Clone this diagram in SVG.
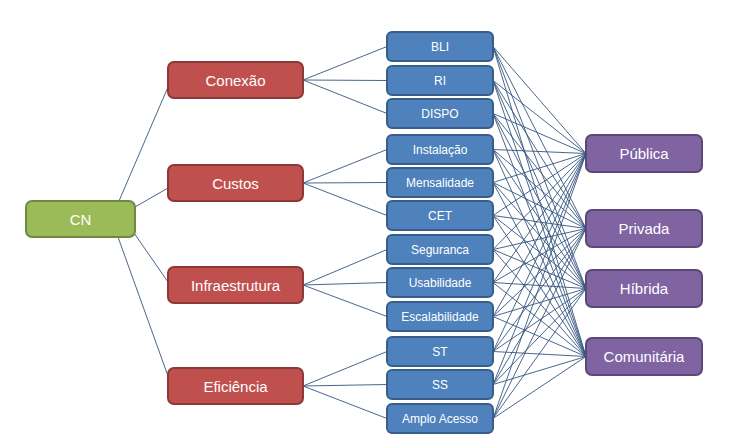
<svg xmlns="http://www.w3.org/2000/svg" width="751" height="439" viewBox="0 0 751 439">
<defs>
<style>
.lk{stroke:#34567f;stroke-width:0.9;fill:none}
.g{fill:#9BBB59;stroke:#71893F;stroke-width:2}
.r{fill:#C0504D;stroke:#8C3836;stroke-width:2}
.b{fill:#4F81BD;stroke:#385D8A;stroke-width:2}
.p{fill:#8064A2;stroke:#5C4776;stroke-width:2}
text{font-family:"Liberation Sans",Arial,sans-serif;fill:#fff;text-anchor:middle;dominant-baseline:central}
.t1{font-size:15px}
.t2{font-size:12px}
</style>
</defs>
<rect width="751" height="439" fill="#fff"/>
<g id="connectors">
<line class="lk" x1="119" y1="201" x2="168" y2="87"/>
<line class="lk" x1="135" y1="207" x2="168" y2="188"/>
<line class="lk" x1="134" y1="233" x2="168" y2="282"/>
<line class="lk" x1="118" y1="237" x2="168" y2="376"/>
<line class="lk" x1="303" y1="80" x2="387" y2="46.5"/>
<line class="lk" x1="303" y1="80" x2="387" y2="80.5"/>
<line class="lk" x1="303" y1="80" x2="387" y2="113.5"/>
<line class="lk" x1="303" y1="183" x2="387" y2="149.5"/>
<line class="lk" x1="303" y1="183" x2="387" y2="182.5"/>
<line class="lk" x1="303" y1="183" x2="387" y2="215.5"/>
<line class="lk" x1="303" y1="285" x2="387" y2="249.5"/>
<line class="lk" x1="303" y1="285" x2="387" y2="282.5"/>
<line class="lk" x1="303" y1="285" x2="387" y2="316.5"/>
<line class="lk" x1="303" y1="386" x2="387" y2="351.5"/>
<line class="lk" x1="303" y1="386" x2="387" y2="384.5"/>
<line class="lk" x1="303" y1="386" x2="387" y2="418.5"/>
<path class="lk" d="M493 46.5L586 153.5M493 46.5L586 228.5M493 46.5L586 288.5M493 46.5L586 356.5
M493 80.5L586 153.5M493 80.5L586 228.5M493 80.5L586 288.5M493 80.5L586 356.5
M493 113.5L586 153.5M493 113.5L586 228.5M493 113.5L586 288.5M493 113.5L586 356.5
M493 149.5L586 153.5M493 149.5L586 228.5M493 149.5L586 288.5M493 149.5L586 356.5
M493 182.5L586 153.5M493 182.5L586 228.5M493 182.5L586 288.5M493 182.5L586 356.5
M493 215.5L586 153.5M493 215.5L586 228.5M493 215.5L586 288.5M493 215.5L586 356.5
M493 249.5L586 153.5M493 249.5L586 228.5M493 249.5L586 288.5M493 249.5L586 356.5
M493 282.5L586 153.5M493 282.5L586 228.5M493 282.5L586 288.5M493 282.5L586 356.5
M493 316.5L586 153.5M493 316.5L586 228.5M493 316.5L586 288.5M493 316.5L586 356.5
M493 351.5L586 153.5M493 351.5L586 228.5M493 351.5L586 288.5M493 351.5L586 356.5
M493 384.5L586 153.5M493 384.5L586 228.5M493 384.5L586 288.5M493 384.5L586 356.5
M493 418.5L586 153.5M493 418.5L586 228.5M493 418.5L586 288.5M493 418.5L586 356.5"/>
</g>
<g id="n-cn"><rect class="g" x="26" y="201" width="109" height="36" rx="6"/><text class="t1" x="80.5" y="219">CN</text></g>
<g id="n-conexao"><rect class="r" x="168" y="62" width="135" height="36" rx="6"/><text class="t1" x="235.5" y="80">Conexão</text></g>
<g id="n-custos"><rect class="r" x="168" y="165" width="135" height="36" rx="6"/><text class="t1" x="235.5" y="183">Custos</text></g>
<g id="n-infra"><rect class="r" x="168" y="267" width="135" height="36" rx="6"/><text class="t1" x="235.5" y="285">Infraestrutura</text></g>
<g id="n-efic"><rect class="r" x="168" y="368" width="135" height="36" rx="6"/><text class="t1" x="235.5" y="386">Eficiência</text></g>
<g id="n-bli"><rect class="b" x="387" y="32" width="106" height="29" rx="5"/><text class="t2" x="440" y="46.5">BLI</text></g>
<g id="n-ri"><rect class="b" x="387" y="66" width="106" height="29" rx="5"/><text class="t2" x="440" y="80.5">RI</text></g>
<g id="n-dispo"><rect class="b" x="387" y="99" width="106" height="29" rx="5"/><text class="t2" x="440" y="113.5">DISPO</text></g>
<g id="n-inst"><rect class="b" x="387" y="135" width="106" height="29" rx="5"/><text class="t2" x="440" y="149.5">Instalação</text></g>
<g id="n-mens"><rect class="b" x="387" y="168" width="106" height="29" rx="5"/><text class="t2" x="440" y="182.5">Mensalidade</text></g>
<g id="n-cet"><rect class="b" x="387" y="201" width="106" height="29" rx="5"/><text class="t2" x="440" y="215.5">CET</text></g>
<g id="n-seg"><rect class="b" x="387" y="235" width="106" height="29" rx="5"/><text class="t2" x="440" y="249.5">Seguranca</text></g>
<g id="n-usab"><rect class="b" x="387" y="268" width="106" height="29" rx="5"/><text class="t2" x="440" y="282.5">Usabilidade</text></g>
<g id="n-escal"><rect class="b" x="387" y="302" width="106" height="29" rx="5"/><text class="t2" x="440" y="316.5">Escalabilidade</text></g>
<g id="n-st"><rect class="b" x="387" y="337" width="106" height="29" rx="5"/><text class="t2" x="440" y="351.5">ST</text></g>
<g id="n-ss"><rect class="b" x="387" y="370" width="106" height="29" rx="5"/><text class="t2" x="440" y="384.5">SS</text></g>
<g id="n-amplo"><rect class="b" x="387" y="404" width="106" height="29" rx="5"/><text class="t2" x="440" y="418.5">Amplo Acesso</text></g>
<g id="n-publica"><rect class="p" x="586" y="135" width="116" height="37" rx="6"/><text class="t1" x="644" y="153.5">Pública</text></g>
<g id="n-privada"><rect class="p" x="586" y="210" width="116" height="37" rx="6"/><text class="t1" x="644" y="228.5">Privada</text></g>
<g id="n-hibrida"><rect class="p" x="586" y="270" width="116" height="37" rx="6"/><text class="t1" x="644" y="288.5">Híbrida</text></g>
<g id="n-comun"><rect class="p" x="586" y="338" width="116" height="37" rx="6"/><text class="t1" x="644" y="356.5">Comunitária</text></g>
</svg>
